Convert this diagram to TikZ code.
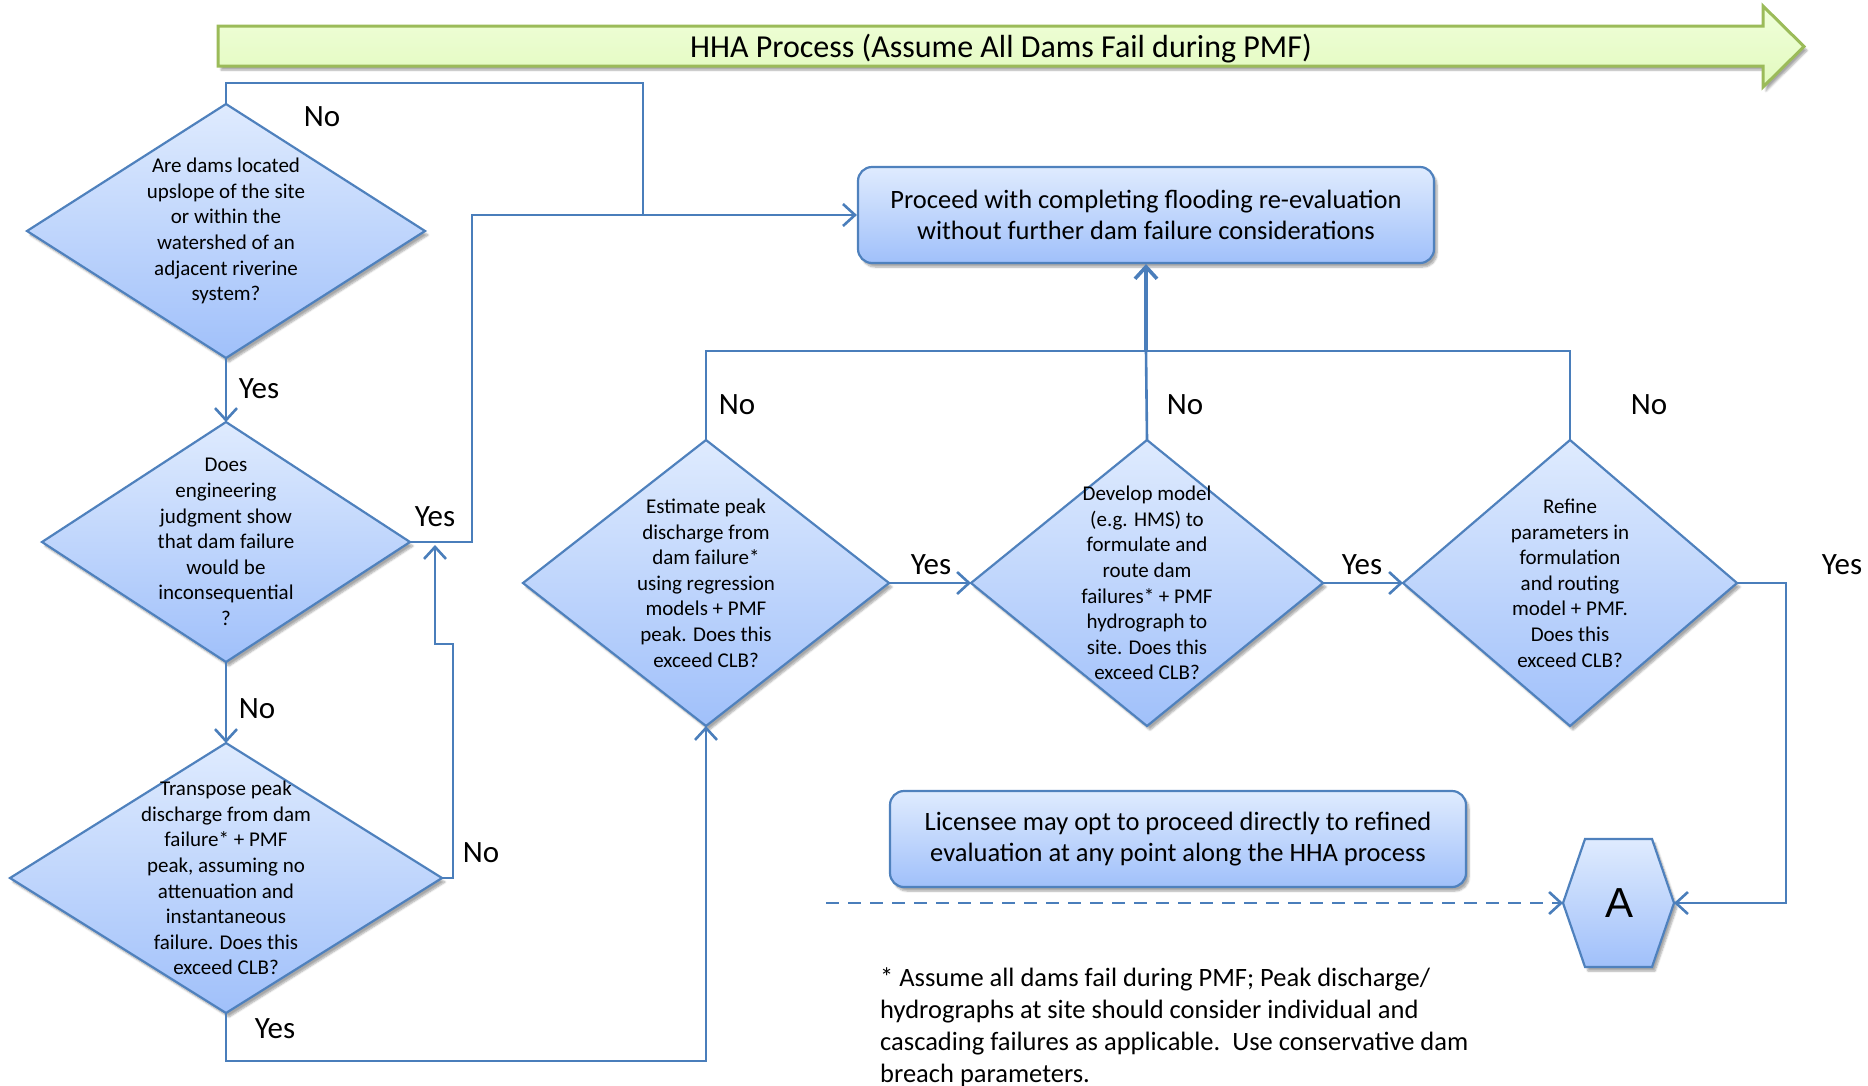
\documentclass[tikz,border=0pt]{standalone}
\usepackage{fontspec}
\setmainfont{Carlito}
\newfontfamily\arialfont{Liberation Sans}
\usetikzlibrary{shapes.geometric,arrows.meta,shadows.blur}

\definecolor{lineblue}{RGB}{74,126,187}
\definecolor{shapeborder}{RGB}{79,129,189}
\definecolor{filltop}{RGB}{223,235,254}
\definecolor{fillbot}{RGB}{160,192,250}
\definecolor{greenborder}{RGB}{155,187,89}
\definecolor{greentop}{RGB}{240,255,218}
\definecolor{greenbot}{RGB}{226,250,190}

\begin{document}
\begin{tikzpicture}[x=1pt,y=-1pt,
  softshadow/.style={blur shadow={shadow xshift=3pt, shadow yshift=-4pt, shadow blur steps=6, shadow opacity=35}},
  shp/.style={draw=shapeborder, line width=2.2pt, top color=filltop, bottom color=fillbot, softshadow},
  dia/.style={shp, diamond, inner sep=0pt, outer sep=0pt},
  dtext/.style={font=\fontsize{21}{25.6}\selectfont, align=center, inner sep=0pt},
  rbox/.style={shp, rectangle, rounded corners=14pt, minimum width=576pt, minimum height=96pt, align=center, font=\fontsize{26.5}{31}\selectfont},
  conn/.style={draw=lineblue, line width=2.6pt},
  arr/.style={-{Straight Barb[length=12pt,width=22pt]}},
  yn/.style={font=\fontsize{31}{36}\selectfont, inner sep=0pt},
]
\useasboundingbox (0,0) rectangle (1868,1085);

% title arrow
\path[draw=greenborder, line width=3pt, top color=greentop, bottom color=greenbot, softshadow]
  (218,26) -- (1763,26) -- (1763,6) -- (1804,46.5) -- (1763,87) -- (1763,66) -- (218,66) -- cycle;
\node[font=\fontsize{32}{36}\selectfont, inner sep=0pt] (title) at (1001,49) {HHA Process (Assume All Dams Fail during PMF)};

% diamonds
\node[dia, minimum width=398pt, minimum height=254pt,
  label={[dtext]center:{Are dams located\\upslope of the site\\or within the\\watershed of an\\adjacent riverine\\system?}}] (d1) at (226,231) {};
\node[dia, minimum width=368pt, minimum height=240pt,
  label={[dtext]center:{Does\\engineering\\judgment show\\that dam failure\\would be\\inconsequential\\?}}] (d2) at (226,542) {};
\node[dia, minimum width=432pt, minimum height=270pt,
  label={[dtext]center:{Transpose peak\\discharge from dam\\failure* + PMF\\peak, assuming no\\attenuation and\\instantaneous\\failure. Does this\\exceed CLB?}}] (d3) at (226,878) {};
\node[dia, minimum width=366pt, minimum height=286pt,
  label={[dtext]center:{Estimate peak\\discharge from\\dam failure*\\using regression\\models + PMF\\peak. Does this\\exceed CLB?}}] (d4) at (706,583) {};
\node[dia, minimum width=352pt, minimum height=286pt,
  label={[dtext]center:{Develop model\\(e.g. HMS) to\\formulate and\\route dam\\failures* + PMF\\hydrograph to\\site. Does this\\exceed CLB?}}] (d5) at (1147,583) {};
\node[dia, minimum width=334pt, minimum height=286pt,
  label={[dtext]center:{Refine\\parameters in\\formulation\\and routing\\model + PMF.\\Does this\\exceed CLB?}}] (d6) at (1570,583) {};

% boxes
\node[rbox] (proceed) at (1146,215) {Proceed with completing flooding re-evaluation\\without further dam failure considerations};
\node[rbox] (licensee) at (1178,839) {Licensee may opt to proceed directly to refined\\evaluation at any point along the HHA process};

% hexagon A
\coordinate (hexW) at (1563,903);
\coordinate (hexE) at (1674,903);
\path[shp] (1585,839) -- (1652,839) -- (hexE) -- (1652,967) -- (1585,967) -- (hexW) -- cycle;
\node[font=\arialfont\fontsize{42}{46}\selectfont, inner sep=0pt] (hexA) at (1619,903) {A};

% junctions
\coordinate (j1) at (643,215);
\coordinate (j2) at (435,545);
\coordinate (j3) at (1146,351);
\coordinate (dstart) at (826,903);

% connectors
\draw[conn] (d1.north) -- ++(0,-21) -| (j1);
\draw[conn,arr] (d2.east) -- ++(62,0) |- (proceed.west);
\draw[conn,arr] (d1.south) -- (d2.north);
\draw[conn,arr] (d2.south) -- (d3.north);
\draw[conn,arr] (d3.east) -- ++(11,0) -- ++(0,-234) -- ++(-18,0) -- (j2);
\draw[conn,arr] (d3.south) -- ++(0,48) -| (d4.south);
\draw[conn,arr] (d4.east) -- (d5.west);
\draw[conn,arr] (d5.east) -- (d6.west);
\draw[conn,arr] (d6.east) -- ++(49,0) |- (hexE);
\draw[conn,arr,dash pattern=on 13pt off 9pt] (dstart) -- (hexW);
\draw[conn] (d4.north) -- ++(0,-89) -| (d6.north);
\draw[conn] (d5.north) -- (j3);
\draw[conn,line width=3.6pt,arr] (j3) -- (proceed.south);

% yes/no labels
\node[yn] (n1) at (322,117) {No};
\node[yn] (y1) at (259,389) {Yes};
\node[yn] (y2) at (435,517) {Yes};
\node[yn] (n2) at (257,709) {No};
\node[yn] (n3) at (481,853) {No};
\node[yn] (y3) at (275,1029) {Yes};
\node[yn] (n4) at (737,405) {No};
\node[yn] (n5) at (1185,405) {No};
\node[yn] (n6) at (1649,405) {No};
\node[yn] (y4) at (931,565) {Yes};
\node[yn] (y5) at (1362,565) {Yes};
\node[yn] (y6) at (1842,565) {Yes};

% footnote
\node[anchor=base west, align=left, inner sep=0pt, font=\fontsize{26.5}{31.8}\selectfont] (note) at (880,1082)
  {* Assume all dams fail during PMF; Peak discharge/\\hydrographs at site should consider individual and\\cascading failures as applicable.\ \ Use conservative dam\\breach parameters.};
\end{tikzpicture}
\end{document}
